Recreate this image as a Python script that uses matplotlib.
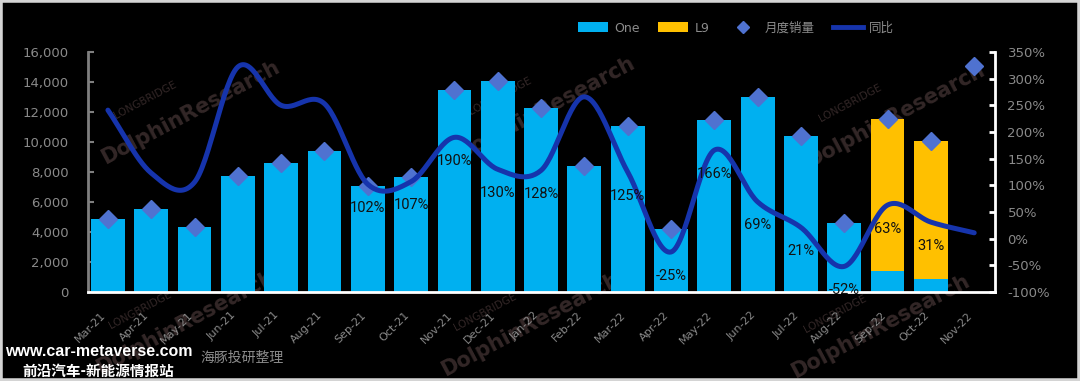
import numpy as np
import matplotlib
matplotlib.use('Agg')
import matplotlib.pyplot as plt
from matplotlib.lines import Line2D
from matplotlib.patches import Patch, Rectangle

plt.rcParams['font.family'] = ['DejaVu Sans', 'Noto Sans CJK SC']

# ---------------- data ----------------
months = ['Mar-21', 'Apr-21', 'May-21', 'Jun-21', 'Jul-21', 'Aug-21', 'Sep-21', 'Oct-21',
          'Nov-21', 'Dec-21', 'Jan-22', 'Feb-22', 'Mar-22', 'Apr-22', 'May-22', 'Jun-22',
          'Jul-22', 'Aug-22', 'Sep-22', 'Oct-22', 'Nov-22']
one_sales = [4900, 5539, 4323, 7713, 8589, 9433, 7094, 7649, 13485, 14087, 12268, 8414,
             11034, 4167, 11496, 13024, 10422, 4571, 1408, 900, np.nan]
l9_sales = [0, 0, 0, 0, 0, 0, 0, 0, 0, 0, 0, 0, 0, 0, 0, 0, 0, 0, 10123, 9152, np.nan]
total_sales = [4900, 5539, 4323, 7713, 8589, 9433, 7094, 7649, 13485, 14087, 12268, 8414,
               11034, 4167, 11496, 13024, 10422, 4571, 11531, 10052, 15034]
yoy = [241, 123, 106, 322, 250, 253, 102, 107, 190, 130, 128, 266, 125, -25, 166, 69, 21,
       -52, 63, 31, 11]
yoy_labels = [None, None, None, None, None, None, '102%', '107%', '190%', '130%', '128%', None,
              '125%', '-25%', '166%', '69%', '21%', '-52%', '63%', '31%', None]
left_ticks = [0, 2000, 4000, 6000, 8000, 10000, 12000, 14000, 16000]
right_ticks = [-100, -50, 0, 50, 100, 150, 200, 250, 300, 350]

# ---------------- style ----------------
c_one = '#00B0F0'
c_l9 = '#FFC000'
c_dia = '#4F72D0'
c_line = '#1634AC'
c_tick = '#8a8a8a'
W, H = 1080, 381

fig = plt.figure(figsize=(W / 100, H / 100), dpi=100, facecolor='black')

# watermarks (behind axes)
wm_pos = [(190, 112), (545, 108), (895, 115), (185, 322), (530, 324), (880, 326)]
for (px, py) in wm_pos:
    fig.text(px / W, 1 - py / H, 'DolphinResearch', color='#332727', fontsize=15,
             fontweight='bold', rotation=28, ha='center', va='center', zorder=-5)
    fig.text((px - 45) / W, 1 - (py - 12) / H, 'LONGBRIDGE', color='#332727', fontsize=7.5,
             rotation=28, ha='center', va='center', zorder=-5)

ax = fig.add_axes([88 / W, 1 - 292 / H, (995 - 88) / W, 240 / H])
ax.set_facecolor('none')
x = np.arange(len(months))

ax.bar(x, one_sales, width=0.78, color=c_one, zorder=2)
ax.bar(x, l9_sales, width=0.78, bottom=one_sales, color=c_l9, zorder=2)
ax.plot(x, total_sales, ls='none', marker='D', markersize=9.5, color=c_dia, zorder=4)

ax.set_xlim(-0.46, 20.48)
ax.set_ylim(0, 16000)
ax.set_yticks(left_ticks)
ax.set_yticklabels([f'{v:,}' for v in left_ticks])
ax.set_xticks(x)
ax.set_xticklabels(months, rotation=45, ha='right')
ax.tick_params(axis='x', length=0, pad=13, colors=c_tick, labelsize=8)
ax.tick_params(axis='y', direction='in', length=4, width=1.5, colors='#7f7f7f',
               labelcolor=c_tick, labelsize=9.5, pad=14)
for s in ['top', 'right']:
    ax.spines[s].set_visible(False)
ax.spines['left'].set_color('#7f7f7f')
ax.spines['left'].set_linewidth(2)
ax.spines['bottom'].set_color('white')
ax.spines['bottom'].set_linewidth(2)

# secondary axis for YoY
ax2 = ax.twinx()
ax2.set_facecolor('none')
ax2.set_ylim(-100, 350)
ax2.set_yticks(right_ticks)
ax2.set_yticklabels([f'{v}%' for v in right_ticks])
ax2.tick_params(axis='y', direction='in', length=4, width=2, colors='white',
                labelcolor=c_tick, labelsize=9.5, pad=9)
for s in ['top', 'left', 'bottom']:
    ax2.spines[s].set_visible(False)
ax2.spines['right'].set_color('white')
ax2.spines['right'].set_linewidth(2)

# smoothed (Catmull-Rom) rendering of the YoY line
yv = np.array(yoy, dtype=float)
n = len(yv)
m = np.zeros(n)
m[1:-1] = (yv[2:] - yv[:-2]) / 2
m[0] = yv[1] - yv[0]
m[-1] = yv[-1] - yv[-2]
xs, ys = [], []
t = np.linspace(0, 1, 30)
h00 = 2 * t**3 - 3 * t**2 + 1
h10 = t**3 - 2 * t**2 + t
h01 = -2 * t**3 + 3 * t**2
h11 = t**3 - t**2
for i in range(n - 1):
    xs.append(x[i] + t)
    ys.append(h00 * yv[i] + h10 * m[i] + h01 * yv[i + 1] + h11 * m[i + 1])
ax2.plot(np.concatenate(xs), np.concatenate(ys), color=c_line, lw=3.6,
         solid_capstyle='round', zorder=3)

for xi, yi, lab in zip(x, yoy, yoy_labels):
    if lab:
        ax2.annotate(lab, (xi, yi), xytext=(0, -17), textcoords='offset points',
                     ha='center', va='center', fontsize=10.5, color='#111111',
                     family=['Roboto', 'DejaVu Sans'], zorder=5)

# legend
handles = [Patch(facecolor=c_one, label='One'),
           Patch(facecolor=c_l9, label='L9'),
           Line2D([], [], marker='D', ls='none', color=c_dia, markersize=6, label='月度销量'),
           Line2D([], [], color=c_line, lw=3.5, label='同比')]
fig.legend(handles=handles, loc='center', bbox_to_anchor=(736 / W, 1 - 28 / H), ncol=4,
           frameon=False, fontsize=9, labelcolor='#8c8c8c', handlelength=2.4,
           handleheight=0.8, columnspacing=1.5, handletextpad=0.5)

# bottom-left source texts
fig.text(200 / W, 1 - 358 / H, '海豚投研整理', color='#8c8c8c', fontsize=10,
         family=['Noto Sans CJK SC'], ha='left', va='center', zorder=6)
fig.text(5 / W, 1 - 352 / H, 'www.car-metaverse.com', color='white', fontsize=11.5,
         fontweight='bold', family=['Liberation Sans', 'DejaVu Sans'], ha='left',
         va='center', zorder=7)
fig.text(22 / W, 1 - 371 / H, '前沿汽车-新能源情报站', color='white', fontsize=10.5,
         fontweight='bold', family=['Noto Sans CJK SC'], ha='left', va='center', zorder=7)

# outer frame
fig.patches.append(Rectangle((0, 0), 1, 1, transform=fig.transFigure, fill=False,
                             edgecolor='#d4d4d4', lw=4, zorder=10))

fig.savefig('out.png', dpi=100, facecolor='black')
